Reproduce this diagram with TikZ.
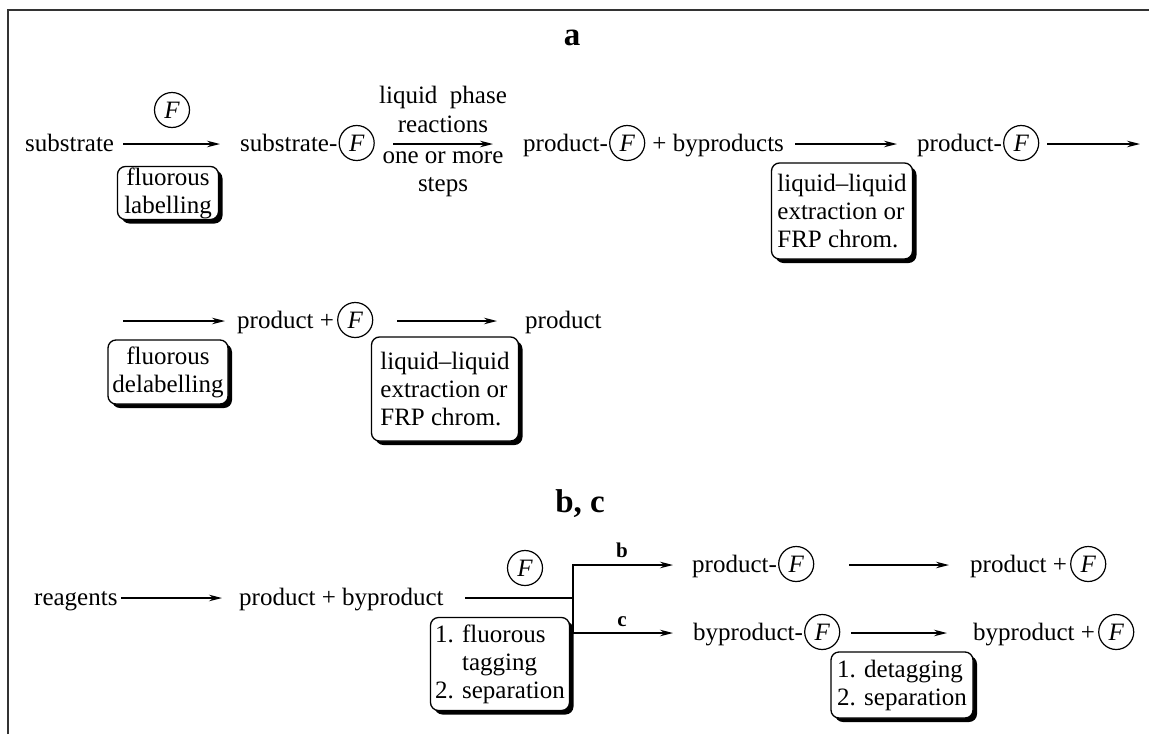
\documentclass[tikz,border=0pt]{standalone}
\usepackage{fontspec}
\setmainfont{Liberation Serif}
\usetikzlibrary{arrows.meta,shadows,calc}
\newcommand{\msz}{\fontsize{25}{28}\selectfont}
\begin{document}
\begin{tikzpicture}[x=1pt,y=-1pt,
  txt/.style={inner sep=0pt, anchor=base west, font=\msz},
  lbl/.style={inner sep=0pt, anchor=base, font=\msz},
  fc/.style={circle, draw, line width=1.2pt, minimum size=35pt, inner sep=0pt, font=\msz\itshape},
  arr/.style={line width=1.4pt, -{Stealth[length=13pt,width=6.5pt]}},
  ln/.style={line width=1.4pt},
  sbox/.style={draw, line width=1.3pt, rounded corners=8pt, fill=white, inner xsep=3pt, inner ysep=1pt,
    font=\fontsize{25}{28}\selectfont,
    drop shadow={opacity=1, fill=black, shadow xshift=4pt, shadow yshift=-4pt}},
  ttl/.style={inner sep=0pt, anchor=base, font=\fontsize{33}{33}\selectfont\bfseries},
  bl/.style={inner sep=0pt, anchor=base, font=\fontsize{21}{21}\selectfont\bfseries}]
\useasboundingbox (0,0) rectangle (1149,734);
\draw[line width=1.2pt, black!80] (8,734) -- (8,10) -- (1149,10);

% titles
\node[ttl] (ta) at (572,45) {a};
\node[ttl] (tbc) at (580,512) {b, c};

% ---------- row 1 ----------
\node[txt] (s1) at (25,151) {substrate};
\coordinate (a1s) at (123,144); \coordinate (a1e) at (220,144);
\draw[arr] (a1s) -- (a1e);
\node[fc] (f1) at (172,110) {F};
\node[sbox, align=center, minimum width=101pt, minimum height=52pt] (b1) at (168,193) {fluorous\\labelling};

\node[txt] (s2) at (240,151) {substrate-};
\node[fc, anchor=west] (f2) at ($(s2.base east)+(1,-8)$) {F};

\coordinate (a2s) at (393,144); \coordinate (a2e) at (493,144);
\draw[arr] (a2s) -- (a2e);
\node[lbl] (l1) at (443,103) {liquid\ \ phase};
\node[lbl] (l2) at (443,132) {reactions};
\node[lbl] (l3) at (443,163) {one or more};
\node[lbl] (l4) at (443,191) {steps};

\node[txt] (p1) at (523,151) {product-};
\node[fc, anchor=west] (f3) at ($(p1.base east)+(1,-8)$) {F};
\node[txt] (bp1) at ($(f3.east)+(7,8)$) {+ byproducts};

\coordinate (a3s) at (795,144); \coordinate (a3e) at (897,144);
\draw[arr] (a3s) -- (a3e);
\node[sbox, align=left, minimum width=141pt, minimum height=96pt] (b2) at (842,211) {liquid--liquid\\extraction or\\FRP chrom.};

\node[txt] (p2) at (917,151) {product-};
\node[fc, anchor=west] (f4) at ($(p2.base east)+(1,-8)$) {F};
\coordinate (a4s) at (1047,144); \coordinate (a4e) at (1140,144);
\draw[arr] (a4s) -- (a4e);

% ---------- row 2 ----------
\coordinate (a5s) at (123,321); \coordinate (a5e) at (225,321);
\draw[arr] (a5s) -- (a5e);
\node[sbox, align=center, minimum width=120pt, minimum height=64pt] (b3) at (168,372) {fluorous\\delabelling};
\node[txt] (p3) at (237,328) {product +};
\node[fc, anchor=west] (f5) at ($(p3.base east)+(3,-8)$) {F};
\coordinate (a6s) at (397,321); \coordinate (a6e) at (497,321);
\draw[arr] (a6s) -- (a6e);
\node[txt] (p4) at (525,328) {product};
\node[sbox, align=left, minimum width=147pt, minimum height=104pt] (b4) at (445,389) {liquid--liquid\\extraction or\\FRP chrom.};

% ---------- row 3 ----------
\node[txt] (r1) at (34,605) {reagents};
\coordinate (a7s) at (121,598); \coordinate (a7e) at (222,598);
\draw[arr] (a7s) -- (a7e);
\node[txt] (p5) at (239,605) {product + byproduct};
\coordinate (j1) at (465,598); \coordinate (j2) at (573,598);
\coordinate (jt) at (573,565); \coordinate (jb) at (573,633);
\coordinate (bte) at (673,565); \coordinate (bce) at (673,633);
\draw[ln] (j1) -- (j2);
\draw[arr] (jb) -- (jt) -- (bte);
\draw[arr] (jb) -- (bce);
\node[fc] (f6) at (525,568) {F};
\node[bl] (lb) at (622,557) {b};
\node[bl] (lc) at (622,626) {c};
\node[sbox, align=left, minimum width=139pt, minimum height=93pt] (b5) at (500,664) {1. fluorous\\\phantom{1. }tagging\\2. separation};

\node[txt] (p6) at (692,572) {product-};
\node[fc, anchor=west] (f7) at ($(p6.base east)+(1,-8)$) {F};
\coordinate (a8s) at (849,565); \coordinate (a8e) at (949,565);
\draw[arr] (a8s) -- (a8e);
\node[txt] (p7) at (970,572) {product +};
\node[fc, anchor=west] (f8) at ($(p7.base east)+(3,-8)$) {F};

\node[txt] (p8) at (693,640) {byproduct-};
\node[fc, anchor=west] (f9) at ($(p8.base east)+(1,-8)$) {F};
\coordinate (a9s) at (851,633); \coordinate (a9e) at (947,633);
\draw[arr] (a9s) -- (a9e);
\node[txt] (p9) at (973,640) {byproduct +};
\node[fc, anchor=west] (f10) at ($(p9.base east)+(3,-8)$) {F};
\node[sbox, align=left, minimum width=142pt, minimum height=66pt] (b6) at (902,685) {1. detagging\\2. separation};
\end{tikzpicture}
\end{document}
